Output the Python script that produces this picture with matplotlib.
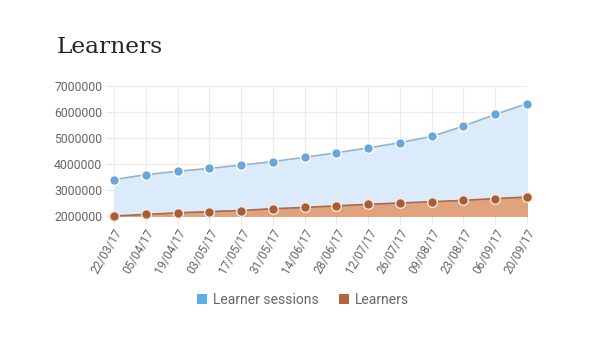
import matplotlib
matplotlib.use("Agg")
import matplotlib.pyplot as plt
from matplotlib.patches import Patch

dates = ["22/03/17", "05/04/17", "19/04/17", "03/05/17", "17/05/17", "31/05/17", "14/06/17",
         "28/06/17", "12/07/17", "26/07/17", "09/08/17", "23/08/17", "06/09/17", "20/09/17"]
sessions = [3400000, 3590000, 3720000, 3830000, 3960000, 4090000, 4260000,
            4430000, 4620000, 4820000, 5060000, 5460000, 5910000, 6320000]
learners = [2000000, 2060000, 2120000, 2170000, 2210000, 2280000, 2330000,
            2390000, 2450000, 2500000, 2550000, 2600000, 2670000, 2730000]
yticks = [2000000, 3000000, 4000000, 5000000, 6000000, 7000000]

fig = plt.figure(figsize=(6, 3.54), dpi=100)
fig.text(57/600, 1 - 47/354, "Learners", family="DejaVu Serif", fontsize=16.8,
         color="#262626", va="center", ha="left")

ax = fig.add_axes([114/600, 1 - 216/354, 413/600, 130/354])
x = list(range(len(dates)))
base = yticks[0]

ax.fill_between(x, base, sessions, color="#dcebfb", zorder=1)
ax.plot(x, sessions, color="#93b4cc", lw=1.2, zorder=3, clip_on=False,
        marker="o", ms=7, mfc="#6aa6d9", mec="white", mew=1.0)
ax.fill_between(x, base, learners, color="#e2a27d", zorder=2)
ax.plot(x, learners, color="#a86a4a", lw=1.2, zorder=4, clip_on=False,
        marker="o", ms=7, mfc="#a35f3c", mec="#fde7d6", mew=1.0)

ax.set_xlim(0, 13)
ax.set_ylim(yticks[0], yticks[-1])
ax.set_xticks(x)
ax.set_xticklabels(dates, rotation=60, ha="right", rotation_mode="anchor",
                   family="Roboto", fontsize=8.5, color="#666666")
ax.set_yticks(yticks)
ax.set_yticklabels([str(v) for v in yticks], family="Roboto", fontsize=8.8, color="#666666")
ax.tick_params(axis="both", length=6, color="#e6e6e6", width=0.8)
ax.tick_params(axis="y", pad=2.5)
ax.tick_params(axis="x", pad=2)
for s in ax.spines.values():
    s.set_visible(False)
ax.grid(True, color="#ececec", lw=0.8, zorder=0)
ax.set_axisbelow(True)

handles = [Patch(facecolor="#5aaeea", edgecolor="none", label="Learner sessions"),
           Patch(facecolor="#b5643c", edgecolor="none", label="Learners")]
fig.legend(handles=handles, loc="center", bbox_to_anchor=(303/600, 1 - 300/354), ncol=2,
           frameon=False, handlelength=0.75, handleheight=0.75, handletextpad=0.45,
           columnspacing=1.4, prop={"family": "Roboto", "size": 10}, labelcolor="#666666")

fig.savefig("out.png", dpi=100, facecolor="white")
